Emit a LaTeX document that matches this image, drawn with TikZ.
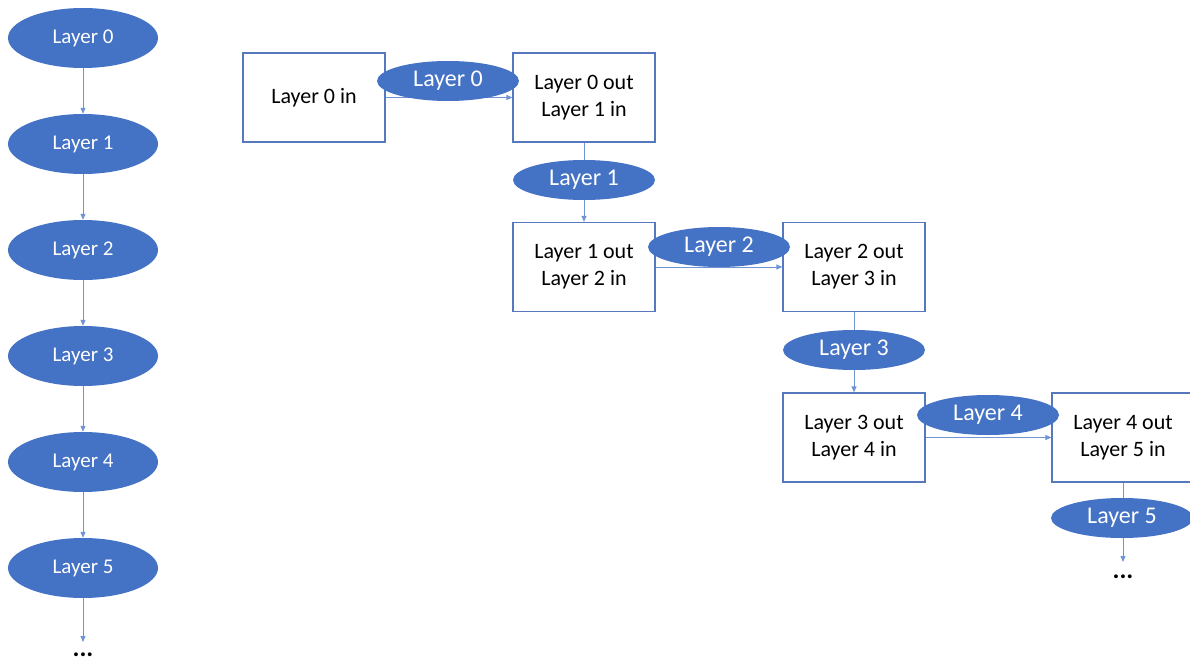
\documentclass[tikz,border=0pt]{standalone}
\usepackage{fontspec}
\setmainfont{Carlito}
\usetikzlibrary{shapes.geometric,arrows.meta}
\definecolor{oblue}{HTML}{4472C4}
\definecolor{lineblue}{HTML}{7094D4}
\definecolor{boxblue}{HTML}{5678BE}
\begin{document}
\begin{tikzpicture}[x=1pt,y=-1pt,
  lay/.style={ellipse, fill=oblue, text=white, inner sep=0pt},
  leftlay/.style={lay, minimum width=150pt, minimum height=60pt, font=\fontsize{21}{25}\selectfont},
  rightlay/.style={lay, minimum width=142pt, minimum height=40pt, font=\fontsize{24}{28}\selectfont},
  stagebox/.style={draw=boxblue, line width=1.2pt, fill=white, minimum width=142pt, minimum height=89pt, align=center, font=\fontsize{22}{27}\selectfont, inner sep=0pt},
  dots/.style={font=\fontsize{26}{30}\selectfont\bfseries, inner sep=0pt},
  conn/.style={draw=lineblue, line width=1pt, -{Triangle[length=6pt,width=5pt]}}]
\useasboundingbox (0,0) rectangle (1190,663);

% left column
\node[leftlay] (l0) at (83,38) {Layer 0};
\node[leftlay] (l1) at (83,144) {Layer 1};
\node[leftlay] (l2) at (83,250) {Layer 2};
\node[leftlay] (l3) at (83,356) {Layer 3};
\node[leftlay] (l4) at (83,462) {Layer 4};
\node[leftlay] (l5) at (83,568) {Layer 5};
\node[dots] (ldots) at (83,655) {...};
\coordinate (lend) at (83,642);
\draw[conn] (l0) -- (l1);
\draw[conn] (l1) -- (l2);
\draw[conn] (l2) -- (l3);
\draw[conn] (l3) -- (l4);
\draw[conn] (l4) -- (l5);
\draw[conn] (l5) -- (lend);

% right staircase
\node[stagebox] (b0) at (314,97.5) {Layer 0 in};
\node[stagebox] (b1) at (584,97.5) {Layer 0 out\\Layer 1 in};
\node[stagebox] (b2) at (584,267) {Layer 1 out\\Layer 2 in};
\node[stagebox] (b3) at (854,267) {Layer 2 out\\Layer 3 in};
\node[stagebox] (b4) at (854,437.5) {Layer 3 out\\Layer 4 in};
\node[stagebox] (b5) at (1123,437.5) {Layer 4 out\\Layer 5 in};
\node[dots] (rdots) at (1123,577) {...};
\coordinate (rend) at (1123,562);

\draw[conn] (b0) -- (b1);
\draw[conn] (b1) -- (b2);
\draw[conn] (b2) -- (b3);
\draw[conn] (b3) -- (b4);
\draw[conn] (b4) -- (b5);
\draw[conn] (b5.south) -- (rend);

\node[rightlay] (r0) at (448,81) {Layer 0};
\node[rightlay] (r1) at (584,180) {Layer 1};
\node[rightlay] (r2) at (719,247) {Layer 2};
\node[rightlay] (r3) at (854,350) {Layer 3};
\node[rightlay] (r4) at (988,415) {Layer 4};
\node[rightlay] (r5) at (1122,518) {Layer 5};
\end{tikzpicture}
\end{document}
